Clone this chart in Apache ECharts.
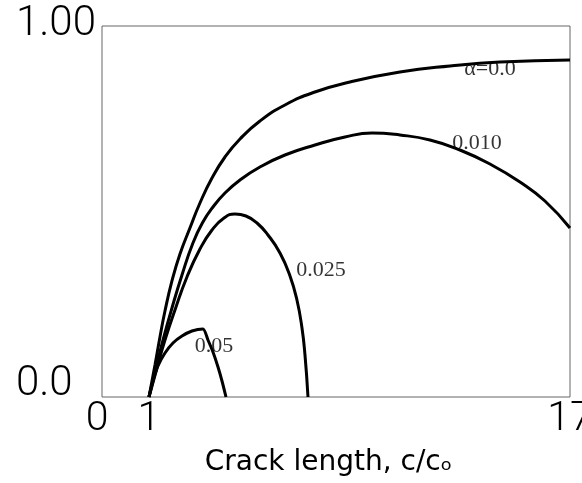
<!DOCTYPE html>
<html><head><meta charset="utf-8">
<script src="https://cdn.jsdelivr.net/npm/echarts@6/dist/echarts.min.js"></script>
<style>html,body{margin:0;padding:0;background:#fff}#c{width:582px;height:483px}</style>
</head><body><div id="c"></div>
<script>
// x: crack length c/c0 (log axis), y: normalised value
const xTickValues = [0.729, 1, 17];
const xTickLabels = ['0', '1', '17'];
const yTickValues = [0, 1];
const yTickLabels = ['0.0', '1.00'];

const curveNames = ['α=0.0', '0.010', '0.025', '0.05'];
const a0X = [1.0, 1.0412, 1.0768, 1.1137, 1.1673, 1.2320, 1.3175, 1.4093, 1.5281, 1.6679, 1.8451, 2.1101, 2.4968, 3.0554, 3.8675, 5.4130, 7.5792, 10.610, 17];
const a0Y = [0, 0.0863, 0.1617, 0.2318, 0.3127, 0.3855, 0.4555, 0.5229, 0.5903, 0.6469, 0.6954, 0.7439, 0.7871, 0.8221, 0.8491, 0.8760, 0.8922, 0.9030, 0.9084];
const a1X = [1.0, 1.0482, 1.0988, 1.1673, 1.2487, 1.3444, 1.4380, 1.5384, 1.6679, 1.8451, 2.1101, 2.4968, 3.0554, 3.7394, 4.4848, 5.4130, 6.6248, 8.1072, 9.9195, 12.140, 14.362, 17];
const a1Y = [0, 0.0782, 0.1536, 0.2399, 0.3288, 0.4151, 0.4717, 0.5121, 0.5499, 0.5849, 0.6199, 0.6523, 0.6792, 0.7008, 0.7116, 0.7062, 0.6927, 0.6658, 0.6280, 0.5795, 0.5283, 0.4555];
const a2X = [1.0, 1.0553, 1.1137, 1.1912, 1.2912, 1.4093, 1.5281, 1.6567, 1.7838, 1.9206, 2.0689, 2.2272, 2.4149, 2.5834, 2.7069, 2.8003, 2.8574, 2.9156];
const a2Y = [0, 0.0782, 0.1536, 0.2345, 0.3235, 0.3989, 0.4501, 0.4825, 0.4933, 0.4879, 0.4690, 0.4367, 0.3881, 0.3261, 0.2615, 0.1860, 0.1132, 0];
const a3X = [1.0, 1.0273, 1.0624, 1.1137, 1.1752, 1.2487, 1.3354, 1.4380, 1.4873, 1.5384, 1.5913, 1.6346, 1.6792];
const a3Y = [0, 0.0431, 0.0836, 0.1186, 0.1456, 0.1644, 0.1779, 0.1833, 0.1536, 0.1213, 0.0809, 0.0431, 0];

const labelX = [9.92, 9.09, 3.18, 1.549];
const labelY = [0.884, 0.685, 0.342, 0.137];

const zip = (xs, ys) => xs.map((x, i) => [x, ys[i]]);
const curves = [[a0X, a0Y], [a1X, a1Y], [a2X, a2Y], [a3X, a3Y]];

const chart = echarts.init(document.getElementById('c'), null, {renderer: 'canvas'});
const series = curves.map((c, i) => ({
  type: 'line', name: curveNames[i], data: zip(c[0], c[1]),
  showSymbol: false, smooth: i === 3 ? 0.25 : 0.5,
  lineStyle: {color: '#000', width: 3}, silent: true, animation: false
}));
series.push({
  type: 'scatter', data: zip(labelX, labelY).map((p, i) => ({value: p, name: curveNames[i]})),
  symbolSize: 0, silent: true, animation: false,
  label: {show: true, position: 'inside', formatter: p => p.name,
    fontFamily: 'Liberation Serif', fontSize: 22, color: '#000'}
});

chart.setOption({
  backgroundColor: '#fff',
  animation: false,
  grid: {left: 102, right: 12, top: 26, bottom: 86, outerBoundsMode: 'none', containLabel: false,
    show: true, borderColor: '#666', borderWidth: 1, backgroundColor: 'transparent'},
  xAxis: {
    type: 'log', logBase: 10, min: 0.729, max: 17,
    name: 'Crack length, c/cₒ', nameLocation: 'middle', nameGap: 52,
    nameTextStyle: {fontFamily: 'DejaVu Sans', fontSize: 28, color: '#000', padding: [0, 15, 0, 0]},
    axisLine: {show: false}, axisTick: {show: false}, splitLine: {show: false}, minorTick: {show: false},
    axisLabel: {
      customValues: xTickValues, margin: 2, hideOverlap: false,
      formatter: v => { const i = xTickValues.findIndex(t => Math.abs(t - v) < 1e-6); const s = i >= 0 ? xTickLabels[i] : ''; return i === 0 ? '{l|' + s + '}' : s; },
      fontFamily: 'Roboto', fontWeight: 300, fontSize: 41, color: '#000',
      rich: {l: {fontFamily: 'Roboto', fontWeight: 300, fontSize: 41, color: '#000', padding: [0, 10, 0, 0]}}
    }
  },
  yAxis: {
    type: 'value', min: 0, max: 1,
    axisLine: {show: false}, axisTick: {show: false}, splitLine: {show: false},
    axisLabel: {
      customValues: yTickValues, margin: 86, align: 'left',
      formatter: v => v === 0 ? '{lo|' + yTickLabels[0] + '}' : '{hi|' + yTickLabels[1] + '}',
      fontFamily: 'Roboto', fontWeight: 300, fontSize: 41, color: '#000',
      rich: {
        lo: {fontFamily: 'Roboto', fontWeight: 300, fontSize: 42, color: '#000', padding: [0, 0, 26, 0]},
        hi: {fontFamily: 'Roboto', fontWeight: 300, fontSize: 42, color: '#000', padding: [0, 0, 4, 0]}
      }
    }
  },
  series: series
});
</script></body></html>
